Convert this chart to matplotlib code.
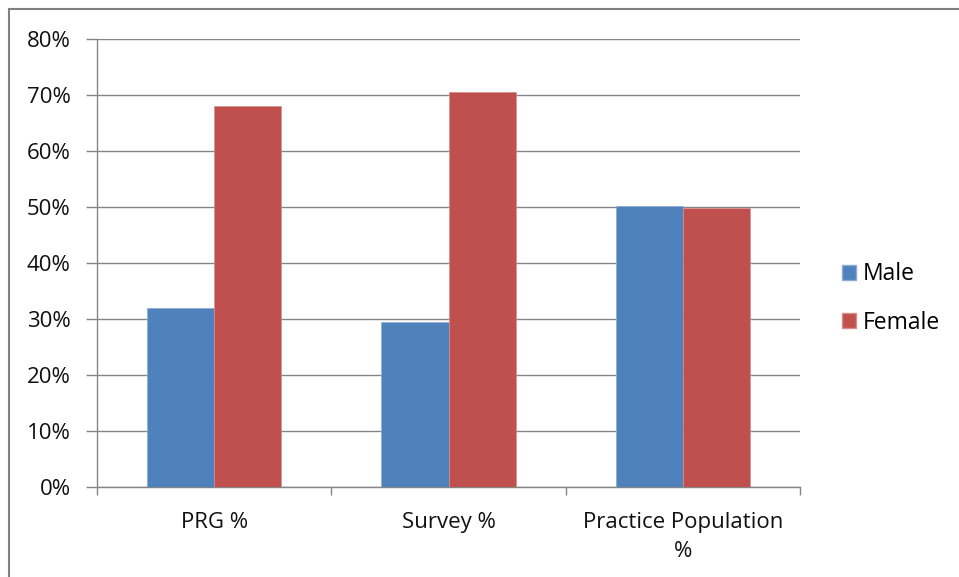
import numpy as np
import matplotlib
matplotlib.use("Agg")
import matplotlib.pyplot as plt
from matplotlib.patches import Rectangle, Patch

plt.rcParams['font.family'] = ['Open Sans', 'DejaVu Sans']

# Share of each group by sex (percent)
categories = ['PRG %', 'Survey %', 'Practice Population\n%']
male = [32.0, 29.5, 50.2]
female = [68.0, 70.5, 49.8]
y_ticks = [0, 10, 20, 30, 40, 50, 60, 70, 80]

BLUE = '#4F81BD'
RED = '#C0504D'
GRID = '#868686'

W, H = 959, 577
fig = plt.figure(figsize=(W / 100, H / 100), dpi=100)

# outer chart frame (runs off the right and bottom edges)
fig.patches.append(Rectangle((9 / W, -0.5), 2.0, 1.5 - 9 / H, transform=fig.transFigure,
                             fill=False, edgecolor='#808080', linewidth=1.5))

ax = fig.add_axes([97 / W, 1 - 487 / H, (800 - 97) / W, (487 - 39) / H])

x = np.arange(len(categories))
bw = 0.286
ax.bar(x - bw / 2, male, bw, color=BLUE, edgecolor='#8FAAD3', linewidth=0.5, zorder=3, label='Male')
ax.bar(x + bw / 2, female, bw, color=RED, edgecolor='#D68F8D', linewidth=0.5, zorder=3, label='Female')

ax.set_xlim(-0.5, len(categories) - 0.5)
ax.set_ylim(0, 80)
ax.set_yticks(y_ticks)
ax.set_yticklabels([f'{v}%' for v in y_ticks])
ax.yaxis.grid(True, color=GRID, linewidth=1, zorder=0)
ax.set_axisbelow(True)

# category labels sit between the boundary tick marks
ax.set_xticks(x)
ax.set_xticklabels(categories)
ax.set_xticks(np.arange(len(categories) + 1) - 0.5, minor=True)
ax.tick_params(axis='x', which='major', length=0, pad=18, labelsize=16, colors='#111111')
ax.tick_params(axis='x', which='minor', length=6, width=1, color=GRID, direction='out')
ax.tick_params(axis='y', length=8, width=1, color=GRID, direction='out', pad=11,
               labelsize=16, labelcolor='#111111')
for lab in ax.get_xticklabels():
    lab.set_linespacing(1.5)

for s in ['top', 'right']:
    ax.spines[s].set_visible(False)
for s in ['left', 'bottom']:
    ax.spines[s].set_color(GRID)
    ax.spines[s].set_linewidth(1)

handles = [Patch(facecolor=BLUE, edgecolor='#8FAAD3', label='Male'),
           Patch(facecolor=RED, edgecolor='#D68F8D', label='Female')]
fig.legend(handles=handles, loc='center left', bbox_to_anchor=(842 / W, 1 - 298.5 / H),
           frameon=False, fontsize=16.5, handlelength=0.62, handleheight=0.62,
           handletextpad=0.3, labelspacing=1.05, borderpad=0, borderaxespad=0)

fig.savefig('out.png', dpi=100)
